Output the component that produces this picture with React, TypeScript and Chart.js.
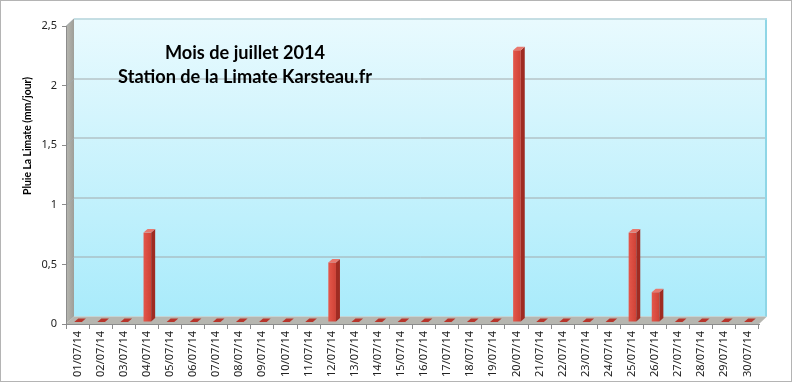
import React, { useEffect, useRef } from 'react';
import { Chart, registerables } from 'chart.js';

Chart.register(...registerables);

const categories = [
  '01/07/14', '02/07/14', '03/07/14', '04/07/14', '05/07/14', '06/07/14',
  '07/07/14', '08/07/14', '09/07/14', '10/07/14', '11/07/14', '12/07/14',
  '13/07/14', '14/07/14', '15/07/14', '16/07/14', '17/07/14', '18/07/14',
  '19/07/14', '20/07/14', '21/07/14', '22/07/14', '23/07/14', '24/07/14',
  '25/07/14', '26/07/14', '27/07/14', '28/07/14', '29/07/14', '30/07/14',
];
const rainfall = [
  0, 0, 0, 0.75, 0, 0,
  0, 0, 0, 0, 0, 0.5,
  0, 0, 0, 0, 0, 0,
  0, 2.28, 0, 0, 0, 0,
  0.75, 0.25, 0, 0, 0, 0,
];
const titleLines = ['Mois de juillet 2014', 'Station de la Limate Karsteau.fr'];
const yAxisTitle = 'Pluie La Limate (mm/jour)';
const yMin = 0;
const yMax = 2.5;
const yStep = 0.5;

const WALL_DX = 8;
const WALL_DY = -7.5;
const BAR_DX = 4;
const BAR_DY = -3.5;

const wallPlugin = {
  id: 'walls3d',
  beforeDraw(chart: any) {
    const ctx = chart.ctx;
    const { left, right, top, bottom } = chart.chartArea;
    const ys = chart.scales.y;
    ctx.save();
    ctx.fillStyle = '#ffffff';
    ctx.fillRect(0, 0, chart.width, chart.height);
    ctx.strokeStyle = '#b4b4b4';
    ctx.lineWidth = 1;
    ctx.strokeRect(0.5, 0.5, 791, 381);

    const bl = left + WALL_DX, br = right + WALL_DX, bt = top + WALL_DY, bb = bottom + WALL_DY;
    // back wall
    const g = ctx.createLinearGradient(0, bt, 0, bb);
    g.addColorStop(0, '#e9fafe');
    g.addColorStop(1, '#a9ebfb');
    ctx.fillStyle = g;
    ctx.fillRect(bl, bt, br - bl, bb - bt);
    // left wall
    const lg = ctx.createLinearGradient(left, 0, bl, 0);
    lg.addColorStop(0, '#b8b8b2');
    lg.addColorStop(1, '#9e9e98');
    ctx.fillStyle = lg;
    ctx.beginPath();
    ctx.moveTo(left, top);
    ctx.lineTo(bl, bt);
    ctx.lineTo(bl, bb);
    ctx.lineTo(left, bottom);
    ctx.closePath();
    ctx.fill();
    // floor
    ctx.fillStyle = '#b6b6b0';
    ctx.beginPath();
    ctx.moveTo(left, bottom);
    ctx.lineTo(bl, bb);
    ctx.lineTo(br, bb);
    ctx.lineTo(right, bottom);
    ctx.closePath();
    ctx.fill();
    // grid lines
    ctx.strokeStyle = '#a3aaac';
    ctx.lineWidth = 1;
    for (let v = yMin + yStep; v <= yMax + 1e-9; v += yStep) {
      const yy = Math.round(ys.getPixelForValue(v)) + 0.5;
      ctx.beginPath();
      ctx.moveTo(left, yy);
      ctx.lineTo(bl, yy + WALL_DY);
      ctx.lineTo(br, yy + WALL_DY);
      ctx.stroke();
    }
    // back wall edges
    ctx.strokeStyle = '#8fd6e6';
    ctx.lineWidth = 2;
    ctx.beginPath();
    ctx.moveTo(br - 1, bt);
    ctx.lineTo(br - 1, bb);
    ctx.stroke();
    ctx.strokeStyle = '#bfe9f2';
    ctx.lineWidth = 1;
    ctx.beginPath();
    ctx.moveTo(bl, bt + 0.5);
    ctx.lineTo(br, bt + 0.5);
    ctx.stroke();
    ctx.restore();
  },
  afterDatasetsDraw(chart: any) {
    const ctx = chart.ctx;
    const meta = chart.getDatasetMeta(0);
    ctx.save();
    meta.data.forEach((el: any) => {
      const w = el.width;
      const x0 = el.x - w / 2 + 0.5;
      const x1 = el.x + w / 2 + 0.5;
      const base = el.base - 2;
      const yTop = Math.min(el.y - 2, base);
      const h = base - yTop;
      if (h > 0.5) {
        // front face
        const fg = ctx.createLinearGradient(x0, 0, x1, 0);
        fg.addColorStop(0, '#e4574b');
        fg.addColorStop(1, '#cf4236');
        ctx.fillStyle = fg;
        ctx.fillRect(x0, yTop, x1 - x0, h);
        // side face
        ctx.fillStyle = '#9f2b22';
        ctx.beginPath();
        ctx.moveTo(x1, yTop);
        ctx.lineTo(x1 + BAR_DX, yTop + BAR_DY);
        ctx.lineTo(x1 + BAR_DX, base + BAR_DY);
        ctx.lineTo(x1, base);
        ctx.closePath();
        ctx.fill();
      }
      // top face
      ctx.fillStyle = h > 0.5 ? '#e8786e' : '#b8362c';
      ctx.beginPath();
      ctx.moveTo(x0, yTop);
      ctx.lineTo(x0 + BAR_DX, yTop + BAR_DY);
      ctx.lineTo(x1 + BAR_DX, yTop + BAR_DY);
      ctx.lineTo(x1, yTop);
      ctx.closePath();
      ctx.fill();
    });
    ctx.restore();
  },
  afterDraw(chart: any) {
    const ctx = chart.ctx;
    ctx.save();
    ctx.fillStyle = '#000000';
    ctx.textAlign = 'center';
    ctx.textBaseline = 'middle';
    // title, fitted to the reference width
    ctx.font = 'bold 17px Lato';
    const m = ctx.measureText(titleLines[1]).width;
    const size = (17 * 254) / m;
    ctx.font = `bold ${size.toFixed(2)}px Lato`;
    ctx.fillText(titleLines[0], 245, 53);
    ctx.fillText(titleLines[1], 245, 77);
    // y axis title
    ctx.font = 'bold 10px Lato';
    const m2 = ctx.measureText(yAxisTitle).width;
    const s2 = (10 * 118) / m2;
    ctx.font = `bold ${s2.toFixed(2)}px Lato`;
    ctx.translate(28, 136);
    ctx.rotate(-Math.PI / 2);
    ctx.fillText(yAxisTitle, 0, 0);
    ctx.restore();
  },
};

export default function App() {
  const ref = useRef<HTMLCanvasElement | null>(null);
  useEffect(() => {
    if (!ref.current) return;
    const chart = new Chart(ref.current, {
      type: 'bar',
      data: {
        labels: categories,
        datasets: [
          {
            label: yAxisTitle,
            data: rainfall,
            backgroundColor: 'rgba(0,0,0,0)',
            borderWidth: 0,
            barPercentage: 0.33,
            categoryPercentage: 1,
          },
        ],
      },
      options: {
        responsive: false,
        devicePixelRatio: 1,
        animation: false,
        layout: { padding: { top: 26, right: 34, bottom: 0, left: 0 } },
        plugins: { legend: { display: false }, tooltip: { enabled: false }, title: { display: false } },
        scales: {
          x: {
            grid: { display: true, drawOnChartArea: false, drawTicks: true, tickLength: 5, color: '#8c8c8c', offset: true },
            border: { display: true, color: '#8c8c8c' },
            ticks: {
              autoSkip: false,
              minRotation: 90,
              maxRotation: 90,
              padding: 2,
              color: '#222222',
              font: { family: 'Noto Sans', size: 11 },
            },
            afterFit: (s: any) => { s.height = 60; },
          },
          y: {
            min: yMin,
            max: yMax,
            grid: { display: true, drawOnChartArea: false, drawTicks: true, tickLength: 4, color: '#8c8c8c' },
            border: { display: true, color: '#8c8c8c' },
            ticks: {
              stepSize: yStep,
              padding: 5,
              color: '#222222',
              font: { family: 'Noto Sans', size: 11 },
              callback: (v: any) => String(v).replace('.', ','),
            },
            afterFit: (s: any) => { s.width = 66; },
          },
        },
      },
      plugins: [wallPlugin],
    });
    return () => chart.destroy();
  }, []);
  return (
    <div style={{ position: 'fixed', left: 0, top: 0, width: 793, height: 384 }}>
      <canvas ref={ref} width={793} height={384} />
    </div>
  );
}
